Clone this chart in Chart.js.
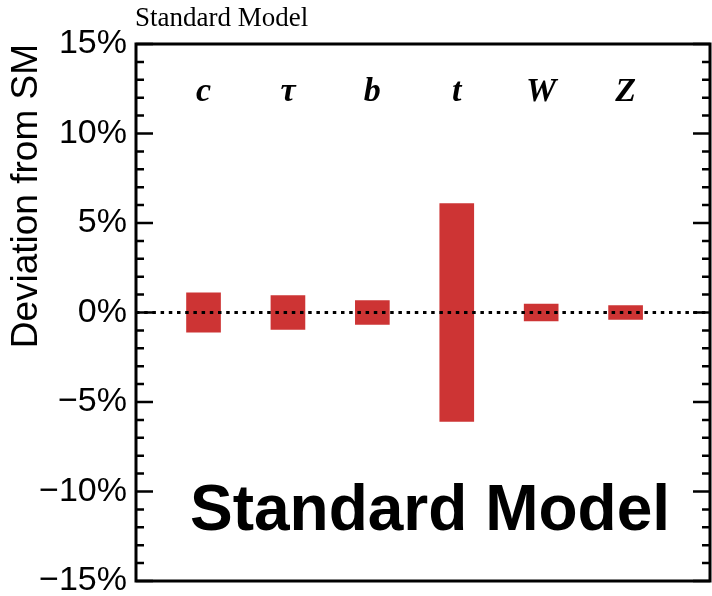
<!DOCTYPE html>
<html>
<head>
<meta charset="utf-8">
<script src="https://cdn.jsdelivr.net/npm/chart.js@4.4.1/dist/chart.umd.min.js"></script>
<style>
  html, body { margin: 0; padding: 0; background: #fff; }
  #wrap { width: 712px; height: 596px; }
</style>
</head>
<body>
<div id="wrap"><canvas id="sm"></canvas></div>
<script>
// categories along the x axis and their positions
const categories = ['c', 'τ', 'b', 't', 'W', 'Z'];
const positions = [1, 2, 3, 4, 5, 6];
// half width of each band (deviation from SM, in %)
const deviation = [1.1, 0.95, 0.66, 6.08, 0.47, 0.39];
// y axis tick labels
const yTicks = [-15, -10, -5, 0, 5, 10, 15];

const serif = '"Liberation Serif", "Times New Roman", serif';
const sans = '"Liberation Sans", Arial, Helvetica, sans-serif';

// frame, inward ticks, dotted zero line and the texts
const decor = {
    id: 'decor',
    afterDatasetsDraw(chart) {
        const { ctx, chartArea: a, scales: { x, y } } = chart;
        ctx.save();

        // dotted line at 0
        const y0 = y.getPixelForValue(0);
        ctx.strokeStyle = '#000';
        ctx.lineWidth = 3;
        ctx.setLineDash([3.5, 4.7]);
        ctx.beginPath();
        ctx.moveTo(a.left, y0);
        ctx.lineTo(a.right, y0);
        ctx.stroke();
        ctx.setLineDash([]);

        // ticks on both sides, pointing in
        ctx.lineWidth = 2.5;
        for (let v = y.min; v <= y.max; v++) {
            const py = y.getPixelForValue(v);
            const len = v % 5 === 0 ? 17 : 8;
            ctx.beginPath();
            ctx.moveTo(a.left, py);
            ctx.lineTo(a.left + len, py);
            ctx.moveTo(a.right, py);
            ctx.lineTo(a.right - len, py);
            ctx.stroke();
        }

        // box
        ctx.lineWidth = 3;
        ctx.strokeRect(a.left, a.top, a.right - a.left, a.bottom - a.top);

        // particle labels
        ctx.fillStyle = '#000';
        ctx.font = 'italic bold 34px ' + serif;
        ctx.textAlign = 'center';
        ctx.textBaseline = 'middle';
        categories.forEach((c, i) => {
            ctx.fillText(c, x.getPixelForValue(positions[i]), y.getPixelForValue(12.3));
        });

        // big label inside
        ctx.font = 'bold 64px ' + sans;
        ctx.textBaseline = 'alphabetic';
        ctx.fillText('Standard Model', 430, 530);

        // small label on top
        ctx.font = '27px ' + serif;
        ctx.textAlign = 'left';
        ctx.fillText('Standard Model', 135, 26);

        ctx.restore();
    }
};

const chart = new Chart(document.getElementById('sm'), {
    type: 'bar',
    data: {
        datasets: [{
            data: positions.map((p, i) => ({ x: p, y: [-deviation[i], deviation[i]] })),
            backgroundColor: '#cd3434',
            borderWidth: 0,
            barThickness: 34
        }]
    },
    options: {
        responsive: true,
        maintainAspectRatio: false,
        animation: false,
        layout: { padding: { left: 0, right: 2, top: 44, bottom: 15 } },
        plugins: {
            legend: { display: false },
            tooltip: { enabled: false }
        },
        scales: {
            x: {
                type: 'linear',
                min: 0.2,
                max: 7,
                display: false,
                offset: false
            },
            y: {
                min: -15,
                max: 15,
                afterBuildTicks: (s) => { s.ticks = yTicks.map(v => ({ value: v })); },
                afterFit: (s) => {
                    s.width = 136;
                    s.paddingTop = 0;
                    s.paddingBottom = 0;
                },
                grid: { display: false, drawTicks: false },
                border: { display: false },
                ticks: {
                    color: '#000',
                    padding: 9,
                    font: { family: sans, size: 34, lineHeight: 0.85 },
                    callback: (v) => (v < 0 ? '\u2212' + Math.abs(v) : v) + '%'
                },
                title: {
                    display: true,
                    text: 'Deviation from SM',
                    align: 'end',
                    color: '#000',
                    padding: { top: 5, bottom: 0 },
                    font: { family: sans, size: 37 }
                }
            }
        }
    },
    plugins: [decor]
});
</script>
</body>
</html>
